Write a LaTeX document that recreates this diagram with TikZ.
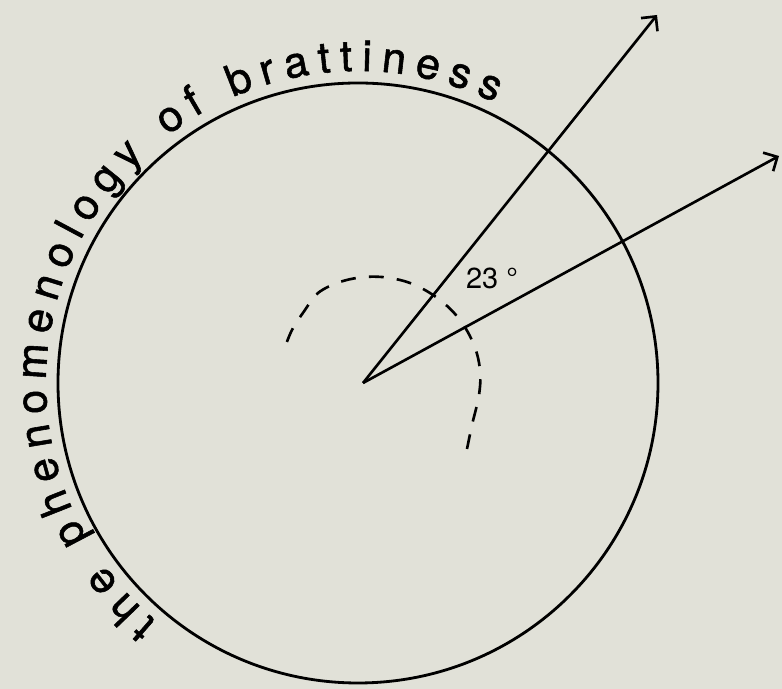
\documentclass[tikz,border=0pt]{standalone}
\usepackage{fontspec}
\setmainfont{TeX Gyre Heros}
\newfontfamily\ringfont[FakeBold=1.3]{TeX Gyre Heros}
\usetikzlibrary{arrows.meta, decorations.text}
\definecolor{paper}{RGB}{225,225,216}

\begin{document}
\begin{tikzpicture}[x=0.02cm, y=0.02cm,
  ring/.style={draw=black, line width=1.6pt},
  ray/.style={-{Straight Barb[length=6pt, width=12pt, line width=1.5pt]}, line width=1.5pt},
  sweep/.style={draw=black, line width=1.5pt, dash pattern=on 8.5pt off 7.5pt},
  tag/.style={font=\fontsize{16.5}{19}\selectfont, inner sep=0pt}]
  \fill[paper] (0,0) rectangle (782,689);
  \useasboundingbox (0,0) rectangle (782,689);
  \coordinate (centre) at (358,306);
  \coordinate (origin) at (363,306);
  \coordinate (tipA) at (657,674);
  \coordinate (tipB) at (779,533);
  % the big circle and its title
  \draw[ring] (centre) circle[radius=300];
  \path[decorate, decoration={text along path,
      text={|\ringfont\fontsize{24.5}{28}\selectfont|the phenomenology of brattiness},
      text align=fit to path}]
    (centre) ++(230:312) arc[start angle=230, end angle=64, radius=312];
  % the two rays
  \draw[ray] (origin) -- (tipA);
  \draw[ray] (origin) -- (tipB);
  \node[tag] (angle) at (492,411) {23 °};
  % dashed sweep
  \draw[sweep] plot[smooth, tension=0.6] coordinates {(467,240) (472,264) (479,294)
    (480,319) (474,344) (460,369) (440,389) (415,404) (390,411) (365,412)
    (340,407) (318,396) (305,379) (292,359) (284,339)};
\end{tikzpicture}
\end{document}
